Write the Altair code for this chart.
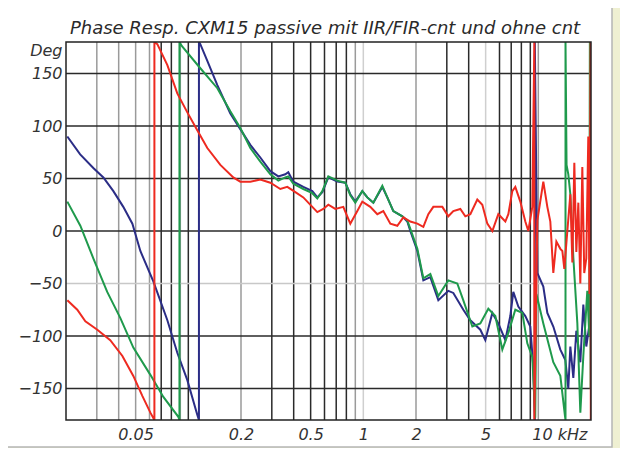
import altair as alt
import pandas as pd

title_text = "Phase Resp. CXM15 passive mit IIR/FIR-cnt und ohne cnt"
x_label_values = [0.05, 0.2, 0.5, 1, 2, 5, 10]
y_label_values = [-150, -100, -50, 0, 50, 100, 150]

grid_dark = [0.07, 0.08, 0.1, 0.3, 0.4, 0.5, 0.6, 0.7, 0.8, 3, 4, 6, 7, 8, 9]
grid_mid = [0.03, 0.04, 0.05, 0.06, 0.09, 0.2, 0.9, 2, 10]
grid_light = [1, 5]
hgrid_dark = [-150, -100, 0, 50, 100, 150]
hgrid_light = [-50]

blue_f = [0.02035, 0.0241, 0.02865, 0.0327, 0.0373, 0.0425, 0.0479, 0.0532, 0.0631, 0.0759,
          0.0865, 0.0987, 0.1125, 0.115, 0.115, 0.1171, 0.1284, 0.1465, 0.1738, 0.1982,
          0.2261, 0.2579, 0.2942, 0.3268, 0.3584, 0.3727, 0.3981, 0.4542, 0.5111, 0.5459,
          0.5831, 0.631, 0.7102, 0.7892, 0.8427, 0.9, 0.9869, 1.054, 1.141, 1.284,
          1.371, 1.484, 1.671, 1.784, 1.856, 2.036, 2.203, 2.415, 2.683, 3.06,
          3.268, 3.728, 4.088, 4.662, 4.979, 5.461, 5.908, 6.479, 6.918, 7.196,
          7.686, 8.427, 9.0, 9.363, 9.55, 9.55, 9.869, 10.68, 11.26, 12.18,
          13.36, 14.27, 14.84, 15.24, 15.85, 16.49, 17.38, 18.08, 18.8, 19.56]
blue_p = [90, 73, 60, 51, 38, 23, 7, -19, -48, -85,
          -116, -142, -175, -180, 180, 178, 162, 139, 112, 97,
          82, 70, 57, 52, 54, 56, 47, 42, 38, 32,
          37, 51, 47, 46, 35, 28, 38, 32, 27, 42,
          32, 19, 14, 9, 0, -19, -47, -44, -66, -57,
          -59, -75, -85, -94, -104, -78, -88, -104, -81, -58,
          -72, -81, -91, -130, -180, 180, -40, -53, -78, -91,
          -113, -123, -150, -110, -140, -95, -125, -70, -110, -90]

green_f = [0.02035, 0.02415, 0.02865, 0.0344, 0.0409, 0.0485, 0.0607, 0.072, 0.0877, 0.089,
           0.089, 0.092, 0.1171, 0.1465, 0.1738, 0.1982,
           0.2261, 0.2579, 0.2942, 0.3268, 0.3584, 0.3727, 0.3981, 0.4542, 0.5111, 0.5459,
           0.5831, 0.631, 0.7102, 0.7892, 0.8427, 0.9, 0.9869, 1.054, 1.141, 1.284,
           1.371, 1.484, 1.671, 1.784, 1.856, 2.036, 2.203, 2.415, 2.683, 3.06,
           3.444, 3.728, 4.197, 4.662, 5.179, 5.681, 6.228, 6.74, 7.388, 8.1,
           8.652, 9.241, 9.6, 9.75, 10.68, 12.18, 13.36, 14.2, 14.3, 14.3,
           14.5, 14.84, 15.24, 15.85, 16.71, 17.38, 18.08, 19.05, 19.56, 19.7, 19.9]
green_p = [28, 5, -26, -58, -83, -111, -137, -158, -177, -180,
           180, 176, 155, 136, 114, 98,
           79, 66, 54, 48, 51, 52, 45, 40, 36, 31,
           38, 52, 48, 46, 34, 27, 38, 32, 27, 43,
           32, 19, 14, 10, 2, -17, -45, -41, -62, -47,
           -50, -66, -91, -88, -74, -81, -113, -97, -75, -78,
           -107, -120, -178, -60, -88, -125, -138, -176, -180, 180,
           63, 54, 35, -25, -88, -173, -119, -57, -100, 180, -150]

red_f = [0.02035, 0.0232, 0.0258, 0.0302, 0.0358, 0.042, 0.0485, 0.0546, 0.0607, 0.064,
         0.064, 0.0665, 0.0759, 0.0865, 0.0987, 0.1125, 0.1284, 0.1524, 0.1807, 0.1982,
         0.2261, 0.2579, 0.2942, 0.3355, 0.3679, 0.4088, 0.4542, 0.5111, 0.5459, 0.5908,
         0.631, 0.6918, 0.7686, 0.8427, 0.9241, 0.9869, 1.096, 1.202, 1.301, 1.427,
         1.564, 1.693, 1.856, 2.036, 2.203, 2.352, 2.512, 2.828, 3.06, 3.268,
         3.584, 3.827, 4.088, 4.481, 4.786, 5.112, 5.461, 5.908, 6.479, 6.74,
         7.102, 7.388, 7.891, 8.427, 8.767, 9.241, 9.49, 9.49, 9.87, 10.68,
         11.26, 11.71, 12.18, 12.68, 13.36, 13.72, 14.08, 14.65, 15.24, 15.65,
         16.06, 16.49, 16.93, 17.38, 17.84, 18.3, 18.8, 19.3, 19.6, 19.9, 19.95]
red_p = [-66, -75, -86, -94, -104, -119, -138, -157, -173, -180,
         180, 178, 158, 131, 113, 96, 79, 63, 51, 47,
         47, 49, 46, 40, 42, 37, 32, 23, 18, 21,
         25, 21, 23, 7, 19, 28, 23, 16, 19, 7,
         5, 13, 9, 7, 4, 16, 23, 23, 14, 19,
         21, 14, 16, 30, 25, 7, 0, 16, 9, 16,
         38, 42, 28, 9, 0, 23, 180, -180, 10, 47,
         23, 9, -40, -10, -17, -19, -36, 0, 35, -30,
         65, -20, 27, -50, 61, -40, -26, 90, -60, 180, -180]


def series_df(f, p):
    return pd.DataFrame({"f": f, "p": p, "i": list(range(len(f)))})


xscale = alt.Scale(type="log", domain=[0.02, 20])
yscale = alt.Scale(domain=[-180, 180])
FONT = "DejaVu Sans"

one = pd.DataFrame({"a": [0]})

xaxis = alt.Axis(values=x_label_values, format="~g",
                 labelExpr="datum.value == 10 ? '10 kHz' : datum.label",
                 labelOffset={"condition": {"test": "datum.value == 10", "value": 21}, "value": 0},
                 grid=False, ticks=False, domain=False, title=None, zindex=2,
                 labelFont=FONT, labelFontStyle="italic", labelFontSize=16, labelColor="#333",
                 labelPadding=6, labelFlush=False, labelOverlap=False)
yaxis = alt.Axis(values=y_label_values, grid=False, ticks=False, domain=False, zindex=2,
                 title="Deg", titleAngle=0, titleX=-4, titleY=13, titleAlign="right",
                 titleBaseline="alphabetic", titleFont=FONT, titleFontStyle="italic",
                 titleFontWeight="normal", titleFontSize=16, titleColor="#333",
                 labelFont=FONT, labelFontStyle="italic", labelFontSize=16, labelColor="#333",
                 labelPadding=4)

X = lambda: alt.X("f:Q", scale=xscale, axis=xaxis)
Y = lambda: alt.Y("p:Q", scale=yscale, axis=yaxis)

panel = alt.Chart(one).mark_rect(fill="white", stroke="#b5b5b5", strokeWidth=1.5, clip=False).encode(
    x=alt.value(-70), x2=alt.value(546), y=alt.value(-50), y2=alt.value(405))


def vrule(vals, color, width):
    return alt.Chart(pd.DataFrame({"f": vals})).mark_rule(color=color, strokeWidth=width).encode(x=X())


def hrule(vals, color, width):
    return alt.Chart(pd.DataFrame({"p": vals})).mark_rule(color=color, strokeWidth=width).encode(y=Y())


def line(f, p, color):
    return alt.Chart(series_df(f, p)).mark_line(color=color, strokeWidth=2, clip=True).encode(
        x=X(), y=Y(), order="i:Q")


frame = alt.Chart(one).mark_rect(fillOpacity=0, stroke="#222", strokeWidth=1.5).encode(
    x=alt.value(0), x2=alt.value(525), y=alt.value(0), y2=alt.value(378))

title = alt.Chart(pd.DataFrame({"t": [title_text]})).mark_text(
    font=FONT, fontStyle="italic", fontSize=18, color="#2a2a2a", align="center",
    baseline="alphabetic").encode(text="t:N", x=alt.value(259), y=alt.value(-8))

chart = alt.layer(
    panel,
    vrule(grid_light, "#cfcfcf", 1.5),
    vrule(grid_mid, "#9a9a9a", 1.5),
    vrule(grid_dark, "#2a2a2a", 1.5),
    hrule(hgrid_light, "#c8c8c8", 1.5),
    hrule(hgrid_dark, "#2a2a2a", 1.5),
    line(blue_f, blue_p, "#2b2d86"),
    line(green_f, green_p, "#1f9a4c"),
    line(red_f, red_p, "#ee2a20"),
    frame,
    title,
).properties(
    width=525, height=378,
    autosize="none",
    padding={"left": 58, "top": 34, "right": 29, "bottom": 28},
    background="#eff0d2",
).configure_view(stroke=None)

chart.save("out.html", embed_options={"renderer": "svg", "actions": False})
